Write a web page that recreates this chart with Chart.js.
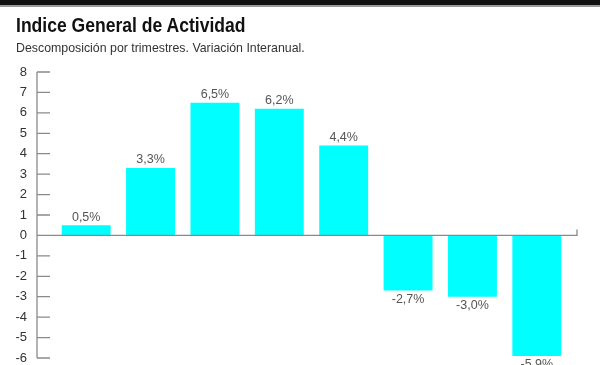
<!DOCTYPE html>
<html>
<head>
<meta charset="utf-8">
<script src="https://cdn.jsdelivr.net/npm/chart.js@4"></script>
<style>
  html, body { margin: 0; padding: 0; width: 600px; height: 365px; overflow: hidden; background: #fff; }
  #topbar { position: absolute; left: 0; top: 0; width: 600px; height: 5px; background: #111; border-bottom: 2px solid #9a9a9a; }
  #title { position: absolute; left: 16px; top: 14px; font-family: "Liberation Sans", Arial, sans-serif; font-weight: bold; font-size: 19.5px; color: #111; white-space: nowrap; transform: scaleX(0.9); transform-origin: 0 0; }
  #subtitle { position: absolute; left: 16px; top: 39.5px; font-family: "Liberation Sans", Arial, sans-serif; font-size: 13px; color: #333; white-space: nowrap; transform: scaleX(0.95); transform-origin: 0 0; }
  #wrap { position: absolute; left: 0; top: 0; width: 600px; height: 400px; }
</style>
</head>
<body>
<div id="wrap"><canvas id="c" width="600" height="400"></canvas></div>
<div id="topbar"></div>
<div id="title">Indice General de Actividad</div>
<div id="subtitle">Descomposición por trimestres. Variación Interanual.</div>
<script>
const categories = ["T1", "T2", "T3", "T4", "T5", "T6", "T7", "T8"];
const values = [0.5, 3.3, 6.5, 6.2, 4.4, -2.7, -3.0, -5.9];
const yTicks = [8, 7, 6, 5, 4, 3, 2, 1, 0, -1, -2, -3, -4, -5, -6];

const axisPlugin = {
  id: 'customAxis',
  afterDatasetsDraw(chart) {
    const ctx = chart.ctx;
    const y = chart.scales.y;
    const area = chart.chartArea;
    const ax = area.left - 17;
    ctx.save();
    ctx.strokeStyle = '#8a8a8a';
    ctx.lineWidth = 1.3;
    ctx.beginPath();
    ctx.moveTo(ax, y.getPixelForValue(yTicks[0]));
    ctx.lineTo(ax, y.getPixelForValue(yTicks[yTicks.length - 1]));
    yTicks.forEach(t => {
      const py = y.getPixelForValue(t);
      ctx.moveTo(ax, py);
      ctx.lineTo(ax + 13, py);
    });
    const zy = y.getPixelForValue(0);
    ctx.moveTo(ax, zy);
    ctx.lineTo(area.right + 8, zy);
    ctx.lineTo(area.right + 8, zy - 6);
    ctx.stroke();
    // value labels
    ctx.fillStyle = '#555';
    ctx.font = '12.5px "Liberation Sans", Arial, sans-serif';
    ctx.textAlign = 'center';
    ctx.textBaseline = 'middle';
    const meta = chart.getDatasetMeta(0);
    meta.data.forEach((bar, i) => {
      const v = values[i];
      const txt = v.toFixed(1).replace('.', ',') + '%';
      const py = v >= 0 ? bar.y - 8 : bar.y + 9;
      ctx.fillText(txt, bar.x, py);
    });
    ctx.restore();
  }
};

new Chart(document.getElementById('c'), {
  type: 'bar',
  data: {
    labels: categories,
    datasets: [{
      data: values,
      backgroundColor: '#00ffff',
      borderWidth: 0,
      barPercentage: 0.76,
      categoryPercentage: 1.0
    }]
  },
  options: {
    responsive: false,
    animation: false,
    layout: { padding: { top: 72, right: 31, bottom: 42, left: 0 } },
    plugins: { legend: { display: false }, tooltip: { enabled: false }, title: { display: false } },
    scales: {
      x: { display: false },
      y: {
        min: -6, max: 8,
        afterFit: s => { s.width = 54; },
        afterBuildTicks: s => { s.ticks = yTicks.map(v => ({ value: v })); },
        grid: { display: false, drawTicks: false },
        border: { display: false },
        ticks: {
          padding: 27,
          color: '#333',
          font: { family: '"Liberation Sans", Arial, sans-serif', size: 13 },
          callback: v => String(v)
        }
      }
    }
  },
  plugins: [axisPlugin]
});
</script>
</body>
</html>
